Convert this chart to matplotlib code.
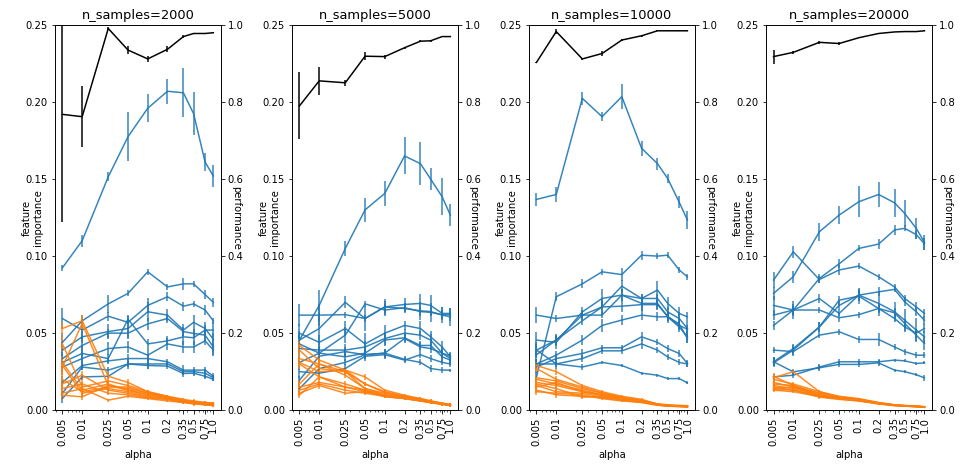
import matplotlib
matplotlib.use('Agg')
import matplotlib.pyplot as plt
from matplotlib.ticker import NullFormatter

alphas = [0.005, 0.01, 0.025, 0.05, 0.1, 0.2, 0.35, 0.5, 0.75, 1.0]
alpha_labels = ['0.005', '0.01', '0.025', '0.05', '0.1', '0.2', '0.35', '0.5', '0.75', '1.0']
n_samples = [2000, 5000, 10000, 20000]

# performance (right axis)
perf_2000 = [0.768, 0.762, 0.991, 0.935, 0.912, 0.937, 0.970, 0.978, 0.978, 0.980]
perf_err_2000 = [0.28, 0.08, 0.004, 0.010, 0.008, 0.008, 0.003, 0.002, 0.002, 0.002]
perf_5000 = [0.790, 0.855, 0.850, 0.919, 0.918, 0.941, 0.958, 0.959, 0.970, 0.970]
perf_err_5000 = [0.087, 0.037, 0.008, 0.010, 0.005, 0.003, 0.002, 0.002, 0.002, 0.002]
perf_10000 = [0.903, 0.983, 0.912, 0.926, 0.961, 0.972, 0.985, 0.985, 0.985, 0.985]
perf_err_10000 = [0.002, 0.006, 0.003, 0.006, 0.002, 0.002, 0.001, 0.001, 0.001, 0.001]
perf_20000 = [0.918, 0.929, 0.955, 0.952, 0.967, 0.978, 0.982, 0.983, 0.983, 0.985]
perf_err_20000 = [0.018, 0.003, 0.003, 0.003, 0.002, 0.002, 0.001, 0.001, 0.001, 0.001]

# informative features (blue)
blue_2000 = [
    [0.0924, 0.110, 0.1515, 0.1775, 0.196, 0.207, 0.206, 0.1925, 0.161, 0.152],
    [0.044, 0.058, 0.069, 0.0758, 0.0898, 0.080, 0.082, 0.082, 0.075, 0.070],
    [0.0595, 0.052, 0.061, 0.057, 0.068, 0.0736, 0.0675, 0.069, 0.065, 0.058],
    [0.039, 0.0476, 0.051, 0.053, 0.0639, 0.0617, 0.052, 0.057, 0.053, 0.046],
    [0.0335, 0.042, 0.050, 0.050, 0.056, 0.0595, 0.051, 0.0498, 0.0487, 0.041],
    [0.031, 0.0368, 0.0335, 0.059, 0.043, 0.045, 0.0476, 0.047, 0.052, 0.052],
    [0.028, 0.0335, 0.040, 0.041, 0.0357, 0.043, 0.041, 0.041, 0.045, 0.039],
    [0.018, 0.029, 0.032, 0.0335, 0.0335, 0.0314, 0.026, 0.026, 0.026, 0.022],
    [0.011, 0.028, 0.026, 0.030, 0.030, 0.030, 0.025, 0.025, 0.024, 0.021],
    [0.0076, 0.0216, 0.022, 0.030, 0.029, 0.0286, 0.0238, 0.024, 0.022, 0.020],
]
blue_err_2000 = [
    [0.002, 0.004, 0.003, 0.016, 0.009, 0.008, 0.016, 0.014, 0.006, 0.007],
    [0.006, 0.004, 0.006, 0.002, 0.002, 0.002, 0.004, 0.002, 0.003, 0.003],
    [0.007, 0.006, 0.003, 0.004, 0.005, 0.003, 0.003, 0.002, 0.003, 0.002],
    [0.005, 0.004, 0.005, 0.006, 0.006, 0.004, 0.004, 0.005, 0.004, 0.004],
    [0.004, 0.006, 0.003, 0.004, 0.004, 0.003, 0.003, 0.003, 0.004, 0.005],
    [0.005, 0.005, 0.003, 0.003, 0.003, 0.003, 0.005, 0.005, 0.003, 0.005],
    [0.005, 0.004, 0.004, 0.004, 0.004, 0.004, 0.004, 0.004, 0.003, 0.004],
    [0.004, 0.003, 0.002, 0.003, 0.003, 0.002, 0.003, 0.002, 0.002, 0.002],
    [0.004, 0.002, 0.002, 0.003, 0.003, 0.002, 0.002, 0.002, 0.003, 0.002],
    [0.003, 0.002, 0.002, 0.002, 0.002, 0.002, 0.002, 0.002, 0.002, 0.001],
]
blue_5000 = [
    [0.0455, 0.068, 0.105, 0.130, 0.1407, 0.165, 0.160, 0.150, 0.1385, 0.1266],
    [0.0617, 0.0617, 0.062, 0.0595, 0.067, 0.066, 0.0645, 0.064, 0.0617, 0.0606],
    [0.0455, 0.053, 0.070, 0.0595, 0.067, 0.0686, 0.0693, 0.068, 0.0628, 0.0628],
    [0.031, 0.037, 0.0487, 0.069, 0.065, 0.0665, 0.064, 0.0635, 0.062, 0.062],
    [0.050, 0.044, 0.053, 0.043, 0.050, 0.055, 0.053, 0.0476, 0.041, 0.0346],
    [0.040, 0.039, 0.039, 0.041, 0.0465, 0.050, 0.0487, 0.0455, 0.037, 0.0335],
    [0.043, 0.037, 0.0346, 0.037, 0.0455, 0.047, 0.042, 0.042, 0.0346, 0.0325],
    [0.0195, 0.035, 0.038, 0.036, 0.037, 0.0465, 0.041, 0.040, 0.037, 0.035],
    [0.025, 0.024, 0.027, 0.035, 0.036, 0.0325, 0.036, 0.0335, 0.031, 0.030],
    [0.014, 0.027, 0.031, 0.036, 0.037, 0.033, 0.031, 0.027, 0.026, 0.026],
]
blue_err_5000 = [
    [0.004, 0.010, 0.005, 0.008, 0.008, 0.012, 0.014, 0.007, 0.012, 0.007],
    [0.007, 0.007, 0.002, 0.002, 0.005, 0.003, 0.006, 0.002, 0.005, 0.006],
    [0.006, 0.010, 0.004, 0.008, 0.004, 0.004, 0.006, 0.007, 0.004, 0.003],
    [0.005, 0.004, 0.005, 0.002, 0.004, 0.003, 0.003, 0.006, 0.003, 0.004],
    [0.006, 0.005, 0.005, 0.007, 0.005, 0.003, 0.005, 0.004, 0.004, 0.003],
    [0.004, 0.004, 0.004, 0.004, 0.004, 0.003, 0.003, 0.004, 0.004, 0.003],
    [0.005, 0.004, 0.003, 0.004, 0.004, 0.003, 0.003, 0.003, 0.004, 0.003],
    [0.003, 0.004, 0.003, 0.003, 0.003, 0.003, 0.003, 0.003, 0.003, 0.002],
    [0.004, 0.003, 0.003, 0.003, 0.003, 0.002, 0.002, 0.002, 0.002, 0.002],
    [0.003, 0.003, 0.002, 0.003, 0.003, 0.002, 0.002, 0.002, 0.002, 0.001],
]
blue_10000 = [
    [0.1368, 0.140, 0.2024, 0.1905, 0.2035, 0.170, 0.160, 0.1504, 0.135, 0.1234],
    [0.0216, 0.0736, 0.082, 0.0898, 0.088, 0.1006, 0.100, 0.1006, 0.091, 0.0866],
    [0.0617, 0.0595, 0.0617, 0.0617, 0.0747, 0.0725, 0.078, 0.0693, 0.0628, 0.0606],
    [0.039, 0.0455, 0.058, 0.067, 0.0805, 0.0725, 0.0725, 0.0638, 0.0595, 0.053],
    [0.0455, 0.044, 0.0638, 0.0725, 0.0747, 0.0693, 0.0693, 0.0606, 0.054, 0.0476],
    [0.036, 0.0455, 0.0617, 0.067, 0.0675, 0.0685, 0.0685, 0.061, 0.055, 0.0525],
    [0.030, 0.0357, 0.0455, 0.055, 0.0585, 0.0617, 0.0606, 0.0606, 0.056, 0.0465],
    [0.028, 0.0335, 0.0368, 0.0405, 0.0405, 0.0476, 0.044, 0.040, 0.0368, 0.0303],
    [0.039, 0.030, 0.0335, 0.0385, 0.0385, 0.043, 0.039, 0.0346, 0.031, 0.030],
    [0.030, 0.030, 0.028, 0.031, 0.029, 0.024, 0.0227, 0.0205, 0.0205, 0.0177],
]
blue_err_10000 = [
    [0.004, 0.005, 0.004, 0.003, 0.008, 0.005, 0.004, 0.003, 0.004, 0.006],
    [0.003, 0.003, 0.003, 0.002, 0.004, 0.003, 0.002, 0.002, 0.002, 0.002],
    [0.005, 0.002, 0.002, 0.002, 0.004, 0.003, 0.006, 0.004, 0.004, 0.003],
    [0.004, 0.003, 0.003, 0.005, 0.004, 0.003, 0.003, 0.003, 0.004, 0.005],
    [0.005, 0.004, 0.003, 0.006, 0.004, 0.004, 0.004, 0.004, 0.003, 0.004],
    [0.004, 0.004, 0.003, 0.004, 0.004, 0.004, 0.003, 0.003, 0.003, 0.003],
    [0.003, 0.003, 0.003, 0.004, 0.003, 0.003, 0.003, 0.003, 0.003, 0.003],
    [0.004, 0.003, 0.003, 0.002, 0.002, 0.003, 0.002, 0.002, 0.002, 0.002],
    [0.005, 0.003, 0.002, 0.002, 0.002, 0.003, 0.002, 0.002, 0.002, 0.002],
    [0.003, 0.002, 0.002, 0.001, 0.001, 0.001, 0.001, 0.001, 0.001, 0.001],
]
blue_20000 = [
    [0.0758, 0.0866, 0.1158, 0.1266, 0.1353, 0.140, 0.1346, 0.1277, 0.118, 0.109],
    [0.068, 0.065, 0.0855, 0.095, 0.105, 0.1078, 0.117, 0.118, 0.114, 0.108],
    [0.0844, 0.1028, 0.0848, 0.091, 0.0935, 0.0866, 0.080, 0.0725, 0.067, 0.0628],
    [0.0617, 0.065, 0.0725, 0.0628, 0.0747, 0.0693, 0.0639, 0.0584, 0.052, 0.0476],
    [0.055, 0.065, 0.065, 0.060, 0.062, 0.066, 0.0632, 0.0563, 0.0487, 0.0433],
    [0.0314, 0.040, 0.054, 0.068, 0.0747, 0.0768, 0.0784, 0.0703, 0.0639, 0.0584],
    [0.0307, 0.039, 0.054, 0.0714, 0.074, 0.066, 0.0595, 0.054, 0.050, 0.053],
    [0.039, 0.038, 0.0487, 0.0509, 0.0459, 0.0459, 0.041, 0.038, 0.0357, 0.0357],
    [0.0216, 0.0227, 0.028, 0.0314, 0.0314, 0.0314, 0.0325, 0.032, 0.0303, 0.0307],
    [0.0314, 0.0249, 0.0275, 0.0297, 0.0297, 0.0307, 0.026, 0.025, 0.023, 0.021],
]
blue_err_20000 = [
    [0.004, 0.004, 0.006, 0.006, 0.010, 0.008, 0.009, 0.009, 0.007, 0.005],
    [0.006, 0.004, 0.003, 0.003, 0.002, 0.003, 0.003, 0.002, 0.003, 0.004],
    [0.005, 0.004, 0.002, 0.003, 0.002, 0.002, 0.002, 0.002, 0.003, 0.003],
    [0.003, 0.006, 0.003, 0.002, 0.003, 0.008, 0.006, 0.007, 0.008, 0.004],
    [0.003, 0.003, 0.002, 0.003, 0.002, 0.002, 0.003, 0.003, 0.004, 0.004],
    [0.003, 0.003, 0.003, 0.003, 0.004, 0.003, 0.002, 0.003, 0.003, 0.003],
    [0.003, 0.003, 0.003, 0.003, 0.005, 0.003, 0.002, 0.003, 0.003, 0.003],
    [0.002, 0.003, 0.002, 0.002, 0.002, 0.004, 0.002, 0.002, 0.002, 0.002],
    [0.002, 0.002, 0.002, 0.002, 0.002, 0.002, 0.001, 0.001, 0.001, 0.001],
    [0.003, 0.002, 0.002, 0.002, 0.002, 0.002, 0.001, 0.001, 0.001, 0.002],
]

# noise features (orange)
orange_2000 = [
    [0.053, 0.058, 0.022, 0.018, 0.012, 0.009, 0.0065, 0.005, 0.005, 0.0045],
    [0.028, 0.0563, 0.016, 0.014, 0.011, 0.0085, 0.006, 0.0055, 0.0045, 0.004],
    [0.043, 0.015, 0.019, 0.016, 0.012, 0.009, 0.007, 0.006, 0.005, 0.0045],
    [0.031, 0.013, 0.017, 0.013, 0.010, 0.008, 0.006, 0.005, 0.004, 0.004],
    [0.029, 0.011, 0.014, 0.012, 0.009, 0.0075, 0.006, 0.005, 0.004, 0.0035],
    [0.017, 0.0227, 0.013, 0.011, 0.0085, 0.007, 0.0055, 0.0045, 0.004, 0.0035],
    [0.014, 0.017, 0.011, 0.010, 0.008, 0.007, 0.005, 0.0045, 0.0035, 0.003],
    [0.011, 0.014, 0.0065, 0.009, 0.0075, 0.006, 0.005, 0.004, 0.0035, 0.003],
    [0.0097, 0.0087, 0.016, 0.013, 0.010, 0.008, 0.006, 0.005, 0.0045, 0.004],
    [0.020, 0.012, 0.015, 0.015, 0.011, 0.0085, 0.0065, 0.0055, 0.0045, 0.004],
]
orange_err_2000 = [
    [0.004, 0.004, 0.002, 0.002, 0.001, 0.001, 0.001, 0.001, 0.001, 0.001],
    [0.005, 0.004, 0.002, 0.001, 0.001, 0.001, 0.001, 0.001, 0.001, 0.001],
    [0.005, 0.003, 0.002, 0.002, 0.001, 0.001, 0.001, 0.001, 0.001, 0.001],
    [0.004, 0.003, 0.002, 0.001, 0.001, 0.001, 0.001, 0.001, 0.001, 0.001],
    [0.004, 0.003, 0.002, 0.001, 0.001, 0.001, 0.001, 0.001, 0.001, 0.001],
    [0.003, 0.003, 0.002, 0.001, 0.001, 0.001, 0.001, 0.001, 0.001, 0.001],
    [0.003, 0.003, 0.001, 0.001, 0.001, 0.001, 0.001, 0.001, 0.001, 0.001],
    [0.003, 0.003, 0.001, 0.001, 0.001, 0.001, 0.001, 0.001, 0.001, 0.001],
    [0.003, 0.002, 0.002, 0.001, 0.001, 0.001, 0.001, 0.001, 0.001, 0.001],
    [0.004, 0.003, 0.002, 0.001, 0.001, 0.001, 0.001, 0.001, 0.001, 0.001],
]
orange_5000 = [
    [0.042, 0.0325, 0.026, 0.0216, 0.013, 0.0097, 0.0075, 0.006, 0.0045, 0.0038],
    [0.039, 0.027, 0.025, 0.017, 0.012, 0.009, 0.007, 0.0055, 0.0045, 0.0035],
    [0.0335, 0.030, 0.0227, 0.014, 0.011, 0.0087, 0.0075, 0.006, 0.0045, 0.0035],
    [0.031, 0.025, 0.026, 0.017, 0.0115, 0.009, 0.007, 0.0055, 0.004, 0.0033],
    [0.030, 0.0216, 0.017, 0.013, 0.010, 0.008, 0.0065, 0.005, 0.004, 0.0033],
    [0.015, 0.018, 0.015, 0.012, 0.0095, 0.008, 0.0065, 0.005, 0.004, 0.003],
    [0.013, 0.017, 0.013, 0.011, 0.009, 0.0076, 0.006, 0.005, 0.004, 0.003],
    [0.011, 0.016, 0.011, 0.012, 0.009, 0.0075, 0.006, 0.0048, 0.0038, 0.003],
    [0.0097, 0.0216, 0.015, 0.013, 0.0087, 0.0076, 0.006, 0.005, 0.004, 0.003],
    [0.017, 0.030, 0.025, 0.014, 0.010, 0.008, 0.0065, 0.005, 0.004, 0.0035],
]
orange_err_5000 = [
    [0.004, 0.003, 0.002, 0.002, 0.001, 0.001, 0.001, 0.001, 0.001, 0.001],
    [0.004, 0.003, 0.002, 0.001, 0.001, 0.001, 0.001, 0.001, 0.001, 0.001],
    [0.003, 0.003, 0.002, 0.001, 0.001, 0.001, 0.001, 0.001, 0.001, 0.001],
    [0.003, 0.003, 0.002, 0.001, 0.001, 0.001, 0.001, 0.001, 0.001, 0.001],
    [0.003, 0.002, 0.002, 0.001, 0.001, 0.001, 0.001, 0.001, 0.001, 0.001],
    [0.003, 0.002, 0.001, 0.001, 0.001, 0.001, 0.001, 0.001, 0.001, 0.001],
    [0.003, 0.002, 0.001, 0.001, 0.001, 0.001, 0.001, 0.001, 0.001, 0.001],
    [0.002, 0.002, 0.001, 0.001, 0.001, 0.001, 0.001, 0.001, 0.001, 0.001],
    [0.002, 0.002, 0.001, 0.001, 0.001, 0.001, 0.001, 0.001, 0.001, 0.001],
    [0.003, 0.003, 0.002, 0.001, 0.001, 0.001, 0.001, 0.001, 0.001, 0.001],
]
orange_10000 = [
    [0.029, 0.025, 0.016, 0.012, 0.009, 0.007, 0.004, 0.0035, 0.003, 0.003],
    [0.027, 0.020, 0.015, 0.011, 0.0085, 0.0065, 0.004, 0.0033, 0.003, 0.0028],
    [0.021, 0.019, 0.014, 0.011, 0.008, 0.006, 0.004, 0.003, 0.0028, 0.0027],
    [0.020, 0.017, 0.013, 0.010, 0.008, 0.006, 0.0038, 0.003, 0.0027, 0.0025],
    [0.018, 0.016, 0.012, 0.0095, 0.0075, 0.0058, 0.0036, 0.003, 0.0026, 0.0025],
    [0.017, 0.014, 0.0085, 0.009, 0.007, 0.0055, 0.0035, 0.0028, 0.0025, 0.0023],
    [0.016, 0.012, 0.011, 0.0085, 0.007, 0.0055, 0.0035, 0.0028, 0.0025, 0.0022],
    [0.013, 0.010, 0.009, 0.008, 0.0065, 0.005, 0.0033, 0.0027, 0.0024, 0.0022],
    [0.012, 0.011, 0.010, 0.0075, 0.006, 0.005, 0.0032, 0.0026, 0.0023, 0.002],
    [0.015, 0.018, 0.012, 0.010, 0.0075, 0.006, 0.0037, 0.003, 0.0026, 0.0024],
]
orange_err_10000 = [
    [0.002, 0.002, 0.001, 0.001, 0.001, 0.001, 0.0005, 0.0005, 0.0005, 0.0005],
    [0.002, 0.002, 0.001, 0.001, 0.001, 0.001, 0.0005, 0.0005, 0.0005, 0.0005],
    [0.002, 0.002, 0.001, 0.001, 0.001, 0.001, 0.0005, 0.0005, 0.0005, 0.0005],
    [0.002, 0.002, 0.001, 0.001, 0.001, 0.001, 0.0005, 0.0005, 0.0005, 0.0005],
    [0.002, 0.002, 0.001, 0.001, 0.001, 0.0005, 0.0005, 0.0005, 0.0005, 0.0005],
    [0.002, 0.002, 0.001, 0.001, 0.001, 0.0005, 0.0005, 0.0005, 0.0005, 0.0005],
    [0.002, 0.002, 0.001, 0.001, 0.001, 0.0005, 0.0005, 0.0005, 0.0005, 0.0005],
    [0.002, 0.002, 0.001, 0.001, 0.001, 0.0005, 0.0005, 0.0005, 0.0005, 0.0005],
    [0.002, 0.002, 0.001, 0.001, 0.001, 0.0005, 0.0005, 0.0005, 0.0005, 0.0005],
    [0.002, 0.002, 0.001, 0.001, 0.001, 0.0005, 0.0005, 0.0005, 0.0005, 0.0005],
]
orange_20000 = [
    [0.021, 0.025, 0.012, 0.009, 0.0075, 0.005, 0.0035, 0.003, 0.0027, 0.0023],
    [0.022, 0.016, 0.011, 0.0088, 0.007, 0.0048, 0.0034, 0.003, 0.0026, 0.0022],
    [0.018, 0.015, 0.011, 0.0085, 0.007, 0.0047, 0.0033, 0.0029, 0.0025, 0.0021],
    [0.017, 0.016, 0.010, 0.008, 0.0068, 0.0045, 0.0033, 0.0028, 0.0025, 0.0021],
    [0.016, 0.014, 0.010, 0.008, 0.0066, 0.0045, 0.0032, 0.0028, 0.0024, 0.002],
    [0.015, 0.013, 0.0095, 0.0078, 0.0065, 0.0044, 0.0031, 0.0027, 0.0024, 0.002],
    [0.014, 0.015, 0.009, 0.0075, 0.0063, 0.0043, 0.0031, 0.0027, 0.0023, 0.0019],
    [0.013, 0.012, 0.0088, 0.0073, 0.006, 0.0042, 0.003, 0.0026, 0.0023, 0.0019],
    [0.0135, 0.013, 0.0085, 0.007, 0.006, 0.004, 0.003, 0.0026, 0.0022, 0.0018],
    [0.020, 0.017, 0.012, 0.0085, 0.0072, 0.0046, 0.0034, 0.0029, 0.0025, 0.0021],
]
orange_err_20000 = [
    [0.002, 0.001, 0.001, 0.0005, 0.0005, 0.0005, 0.0005, 0.0003, 0.0003, 0.0003],
    [0.002, 0.001, 0.001, 0.0005, 0.0005, 0.0005, 0.0005, 0.0003, 0.0003, 0.0003],
    [0.002, 0.001, 0.001, 0.0005, 0.0005, 0.0005, 0.0005, 0.0003, 0.0003, 0.0003],
    [0.002, 0.001, 0.001, 0.0005, 0.0005, 0.0005, 0.0005, 0.0003, 0.0003, 0.0003],
    [0.001, 0.001, 0.001, 0.0005, 0.0005, 0.0005, 0.0005, 0.0003, 0.0003, 0.0003],
    [0.001, 0.001, 0.001, 0.0005, 0.0005, 0.0005, 0.0005, 0.0003, 0.0003, 0.0003],
    [0.001, 0.001, 0.001, 0.0005, 0.0005, 0.0005, 0.0005, 0.0003, 0.0003, 0.0003],
    [0.001, 0.001, 0.001, 0.0005, 0.0005, 0.0005, 0.0005, 0.0003, 0.0003, 0.0003],
    [0.001, 0.001, 0.001, 0.0005, 0.0005, 0.0005, 0.0005, 0.0003, 0.0003, 0.0003],
    [0.002, 0.001, 0.001, 0.0005, 0.0005, 0.0005, 0.0005, 0.0003, 0.0003, 0.0003],
]

panels = [
    (perf_2000, perf_err_2000, blue_2000, blue_err_2000, orange_2000, orange_err_2000),
    (perf_5000, perf_err_5000, blue_5000, blue_err_5000, orange_5000, orange_err_5000),
    (perf_10000, perf_err_10000, blue_10000, blue_err_10000, orange_10000, orange_err_10000),
    (perf_20000, perf_err_20000, blue_20000, blue_err_20000, orange_20000, orange_err_20000),
]

fig, axes = plt.subplots(1, 4, figsize=(980 / 72, 472 / 72), dpi=72)
plt.subplots_adjust(left=0.056, right=0.951, top=0.947, bottom=0.131, wspace=0.428)

for ax, n, (perf, perf_err, blue, blue_err, orange, orange_err) in zip(axes, n_samples, panels):
    for m, e in zip(blue, blue_err):
        ax.errorbar(alphas, m, yerr=e, color='tab:blue', alpha=0.9)
    for m, e in zip(orange, orange_err):
        ax.errorbar(alphas, m, yerr=e, color='tab:orange', alpha=0.9)
    ax.set_xscale('log')
    ax.set_xticks(alphas)
    ax.set_xticklabels(alpha_labels, rotation=90)
    ax.xaxis.set_minor_formatter(NullFormatter())
    ax.set_ylim(0, 0.25)
    ax.set_xlabel('alpha')
    ax.set_ylabel('feature\nimportance', va='top')
    ax.set_title(f'n_samples={n}', fontsize=13)

    ax2 = ax.twinx()
    ax2.errorbar(alphas, perf, yerr=perf_err, color='black')
    ax2.set_ylim(0, 1)
    ax2.set_ylabel('performance', rotation=270, labelpad=-3)

fig.savefig('out.png', dpi=72)
